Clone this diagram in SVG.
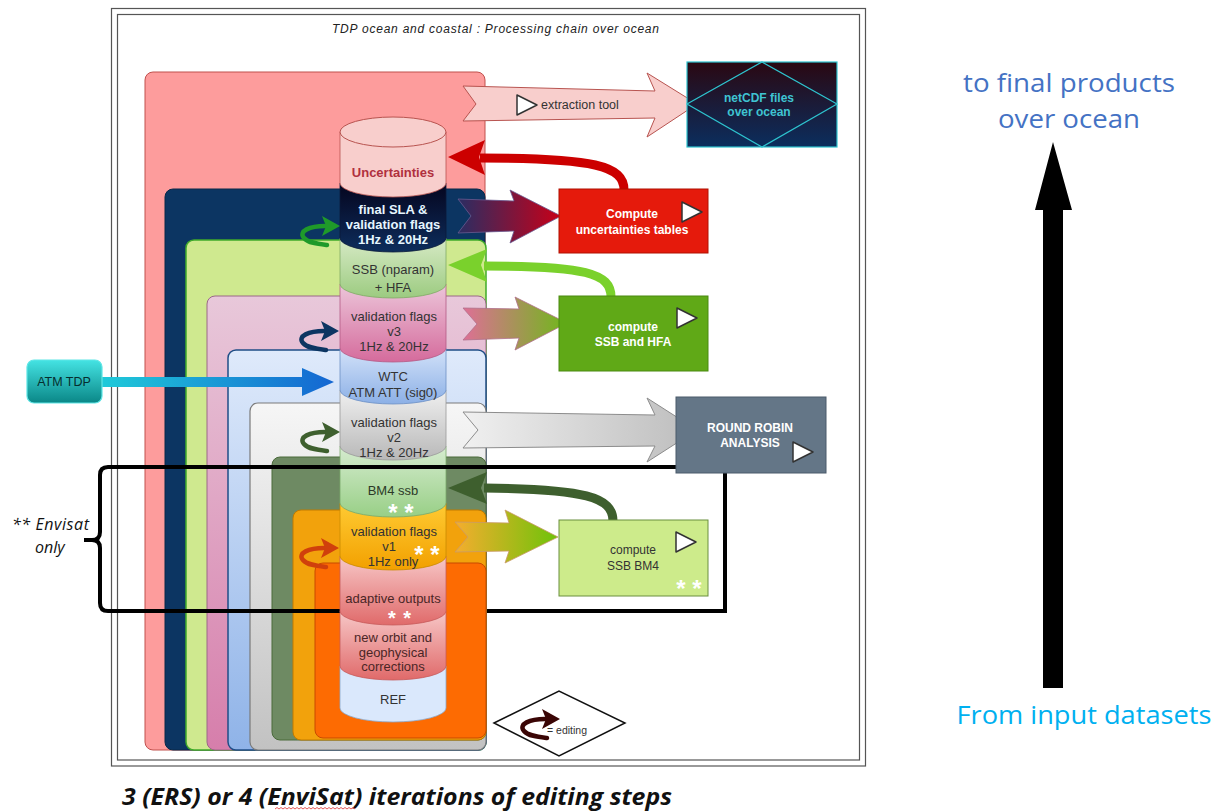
<svg xmlns="http://www.w3.org/2000/svg" width="1223" height="812" viewBox="0 0 1223 812">
  <style>
    .t { font-family: "Liberation Sans", Arial, sans-serif; font-size: 12px; fill: #333; text-anchor: middle; }
    .c { font-size: 13px; }
    .tb { font-weight: bold; }
    .wh { fill: #ffffff; }
    .star { font-family: "Liberation Sans", Arial, sans-serif; font-size: 24px; font-weight: bold; fill: #ffffff; text-anchor: middle; }
    .star-s { font-size: 20px; letter-spacing: 1px; }
    .big { font-family: "Open Sans", "Liberation Sans", sans-serif; font-size: 26px; text-anchor: middle; }
    .frame { fill: none; stroke: #555; stroke-width: 1.2; }
    .play { fill: #ffffff; stroke: #333; stroke-width: 1.5; stroke-linejoin: round; }
    .seg { stroke-width: 0.8; }
    .edit-line { fill: none; stroke: currentColor; stroke-width: 4.5; stroke-linecap: round; }
    .bk { fill: none; stroke: #000; stroke-width: 4; }
  </style>
  <defs>
    <linearGradient id="gMauve" x1="0" y1="0" x2="0" y2="1"><stop offset="0" stop-color="#e8c8da"/><stop offset="1" stop-color="#d67eab"/></linearGradient>
    <linearGradient id="gBlue" x1="0" y1="0" x2="0" y2="1"><stop offset="0" stop-color="#dfeafb"/><stop offset="1" stop-color="#8fb3e8"/></linearGradient>
    <linearGradient id="gGrey" x1="0" y1="0" x2="0" y2="1"><stop offset="0" stop-color="#f6f6f6"/><stop offset="1" stop-color="#c2c2c2"/></linearGradient>
    <linearGradient id="sSla" x1="0" y1="0" x2="0" y2="1"><stop offset="0" stop-color="#05051e"/><stop offset="1" stop-color="#0d2d5c"/></linearGradient>
    <linearGradient id="sSsb" x1="0" y1="0" x2="0" y2="1"><stop offset="0" stop-color="#d7eac6"/><stop offset="1" stop-color="#9ccb80"/></linearGradient>
    <linearGradient id="sV3" x1="0" y1="0" x2="0" y2="1"><stop offset="0" stop-color="#ecc6da"/><stop offset="1" stop-color="#d56b9c"/></linearGradient>
    <linearGradient id="sWtc" x1="0" y1="0" x2="0" y2="1"><stop offset="0" stop-color="#d3e2f9"/><stop offset="1" stop-color="#8cb0e6"/></linearGradient>
    <linearGradient id="sV2" x1="0" y1="0" x2="0" y2="1"><stop offset="0" stop-color="#f0f0f0"/><stop offset="1" stop-color="#b8b8b8"/></linearGradient>
    <linearGradient id="sBm4" x1="0" y1="0" x2="0" y2="1"><stop offset="0" stop-color="#d6ecd0"/><stop offset="1" stop-color="#98cf86"/></linearGradient>
    <linearGradient id="sV1" x1="0" y1="0" x2="0" y2="1"><stop offset="0" stop-color="#ffcb33"/><stop offset="1" stop-color="#f2a000"/></linearGradient>
    <linearGradient id="sRed" x1="0" y1="0" x2="0" y2="1"><stop offset="0" stop-color="#f7c8c8"/><stop offset="1" stop-color="#e06a6a"/></linearGradient>
    <linearGradient id="gNet" x1="0" y1="0" x2="0" y2="1"><stop offset="0" stop-color="#2a0812"/><stop offset="1" stop-color="#0b2e5e"/></linearGradient>
    <linearGradient id="gAtm" x1="0" y1="0" x2="0" y2="1"><stop offset="0" stop-color="#44e3e3"/><stop offset="1" stop-color="#0a8787"/></linearGradient>
    <linearGradient id="aSla" x1="0" y1="0" x2="1" y2="0"><stop offset="0" stop-color="#2a2d63"/><stop offset="1" stop-color="#c80018"/></linearGradient>
    <linearGradient id="aV3" x1="0" y1="0" x2="1" y2="0"><stop offset="0" stop-color="#de6f96"/><stop offset="1" stop-color="#6fb81a"/></linearGradient>
    <linearGradient id="aV2" x1="0" y1="0" x2="1" y2="0"><stop offset="0" stop-color="#f0f0f0"/><stop offset="1" stop-color="#bdbdbd"/></linearGradient>
    <linearGradient id="aV1" x1="0" y1="0" x2="1" y2="0"><stop offset="0" stop-color="#f5ad2e"/><stop offset="1" stop-color="#6ec30a"/></linearGradient>
    <linearGradient id="aAtm" x1="0" y1="0" x2="1" y2="0"><stop offset="0" stop-color="#1fcad9"/><stop offset="1" stop-color="#1466d2"/></linearGradient>
    <!-- editing loop arrow -->
    <symbol id="edit" overflow="visible">
      <path class="edit-line" d="M 29 13 C 14 13 2 18 8 25 C 12 30 22 31 31 32"/>
      <polygon points="26,3 44,13 26,23 30,13" fill="currentColor"/>
    </symbol>
    <symbol id="play" overflow="visible">
      <polygon class="play" points="0,0 20,10 0,20"/>
    </symbol>
  </defs>

  <rect width="1223" height="812" fill="#ffffff"/>

  <!-- double frame -->
  <rect class="frame" x="111.5" y="8.5" width="754" height="757.5"/>
  <rect class="frame" x="117.5" y="14.5" width="742" height="745.5"/>
  <text x="332" y="33" font-family="Liberation Sans, Arial, sans-serif" font-size="12" font-style="italic" fill="#222" textLength="327">TDP ocean and coastal : Processing chain over ocean</text>

  <!-- nested iteration layers -->
  <g id="layers">
    <rect id="layer-unc" x="145" y="72" width="340" height="678" rx="8" fill="#fd9c9c" stroke="#c0504d" stroke-width="1"/>
    <rect id="layer-sla" x="165" y="189" width="320" height="561" rx="8" fill="#0c3562" stroke="#082848" stroke-width="1"/>
    <rect id="layer-ssb" x="186" y="240" width="300" height="510" rx="8" fill="#cfe98f" stroke="#3faa2a" stroke-width="1.5"/>
    <rect id="layer-v3" x="207" y="296" width="279" height="454" rx="8" fill="url(#gMauve)" stroke="#9a6887" stroke-width="1"/>
    <rect id="layer-wtc" x="228" y="350" width="258" height="400" rx="8" fill="url(#gBlue)" stroke="#1f4e86" stroke-width="1.5"/>
    <rect id="layer-v2" x="250" y="403" width="236" height="347" rx="8" fill="url(#gGrey)" stroke="#7a7a7a" stroke-width="1.2"/>
    <rect id="layer-bm4" x="272" y="457" width="214" height="283" rx="8" fill="#6e8a63" stroke="#4a6a3a" stroke-width="1"/>
    <rect id="layer-v1" x="293" y="510" width="193" height="230" rx="8" fill="#f2a20c" stroke="#c07a00" stroke-width="1"/>
    <rect id="layer-adapt" x="315" y="563" width="171" height="175" rx="8" fill="#fd6b02" stroke="#c84b00" stroke-width="1"/>
  </g>

  <!-- Envisat-only bracket, lower part -->
  <g id="envisat-bracket-low">
    <path class="bk" d="M 340 611 L 108 611 Q 100 611 100 603 L 100 548 Q 100 540 92 540 L 84 540"/>
    <path class="bk" d="M 487 611 L 725 611 L 725 472"/>
  </g>

  <!-- processing cylinder, bottom segment first -->
  <g id="cylinder">
    <path class="seg" d="M 340 666 L 340 708 A 53 14 0 0 0 446 708 L 446 666 Z" fill="#dae8fc" stroke="#8aa8cc"/>
    <path class="seg" d="M 340 611 L 340 666 A 53 14 0 0 0 446 666 L 446 611 Z" fill="url(#sRed)" stroke="#c65a5a"/>
    <path class="seg" d="M 340 556 L 340 611 A 53 14 0 0 0 446 611 L 446 556 Z" fill="url(#sRed)" stroke="#c65a5a"/>
    <path class="seg" d="M 340 503 L 340 556 A 53 14 0 0 0 446 556 L 446 503 Z" fill="url(#sV1)" stroke="#c98a00"/>
    <path class="seg" d="M 340 446 L 340 503 A 53 14 0 0 0 446 503 L 446 446 Z" fill="url(#sBm4)" stroke="#7aa86a"/>
    <path class="seg" d="M 340 390 L 340 446 A 53 14 0 0 0 446 446 L 446 390 Z" fill="url(#sV2)" stroke="#999"/>
    <path class="seg" d="M 340 348 L 340 390 A 53 14 0 0 0 446 390 L 446 348 Z" fill="url(#sWtc)" stroke="#6c8fc4"/>
    <path class="seg" d="M 340 284 L 340 348 A 53 14 0 0 0 446 348 L 446 284 Z" fill="url(#sV3)" stroke="#b45a85"/>
    <path class="seg" d="M 340 238 L 340 284 A 53 14 0 0 0 446 284 L 446 238 Z" fill="url(#sSsb)" stroke="#80aa66"/>
    <path class="seg" d="M 340 183 L 340 238 A 53 14 0 0 0 446 238 L 446 183 Z" fill="url(#sSla)" stroke="#0a1a3a"/>
    <path class="seg" d="M 340 132 L 340 183 A 53 14 0 0 0 446 183 L 446 132 Z" fill="#f8cecc" stroke="#b85450" stroke-width="1"/>
    <ellipse cx="393" cy="132" rx="53" ry="15" fill="#f8cecc" stroke="#b85450" stroke-width="1"/>

    <text class="t c tb" x="393" y="177" style="fill:#b0303e">Uncertainties</text>
    <text class="t c tb" x="393" y="214" style="fill:#e6f6ff">final SLA &amp;</text>
    <text class="t c tb" x="393" y="229" style="fill:#e6f6ff">validation flags</text>
    <text class="t c tb" x="393" y="244" style="fill:#e6f6ff">1Hz &amp; 20Hz</text>
    <text class="t c" x="393" y="274">SSB (nparam)</text>
    <text class="t c" x="393" y="292">+ HFA</text>
    <text class="t c" x="394" y="321">validation flags</text>
    <text class="t c" x="394" y="336">v3</text>
    <text class="t c" x="394" y="351">1Hz &amp; 20Hz</text>
    <text class="t c" x="393" y="381">WTC</text>
    <text class="t c" x="393" y="397">ATM ATT (sig0)</text>
    <text class="t c" x="394" y="427">validation flags</text>
    <text class="t c" x="394" y="442">v2</text>
    <text class="t c" x="394" y="457">1Hz &amp; 20Hz</text>
    <text class="t c" x="393" y="495" style="fill:#2c3a28">BM4 ssb</text>
    <text class="star" x="401" y="521">* *</text>
    <text class="t c" x="394" y="536">validation flags</text>
    <text class="t c" x="389" y="551">v1</text>
    <text class="star" x="427" y="563">* *</text>
    <text class="t c" x="393" y="566">1Hz only</text>
    <text class="t c" x="393" y="603" style="fill:#4a2626">adaptive outputs</text>
    <text class="star star-s" x="400" y="625">* *</text>
    <text class="t c" x="393" y="642" style="fill:#4a2626">new orbit and</text>
    <text class="t c" x="393" y="657" style="fill:#4a2626">geophysical</text>
    <text class="t c" x="393" y="671" style="fill:#4a2626">corrections</text>
    <text class="t c" x="393" y="704">REF</text>
  </g>

  <!-- editing loops beside the cylinder -->
  <g id="editing-marks">
    <use href="#edit" x="296" y="213" color="#1f9a2a"/>
    <use href="#edit" x="295" y="318" color="#0c3562"/>
    <use href="#edit" x="296" y="419" color="#3e5f2e"/>
    <use href="#edit" x="295" y="535" color="#d0400c"/>
  </g>

  <!-- Envisat-only bracket, upper line over the stack -->
  <g id="envisat-bracket-top">
    <path class="bk" d="M 677 467 L 108 467 Q 100 467 100 475 L 100 532 Q 100 540 92 540"/>
  </g>

  <g id="connectors">
    <!-- extraction tool -->
    <polygon points="463,86 655,91 647,73 697,104 647,137 655,118 463,121 476,104" fill="#f8cecc" stroke="#b85450" stroke-width="1"/>
    <use href="#play" x="517" y="95"/>
    <text x="541" y="109" font-family="Liberation Sans, Arial, sans-serif" font-size="12.5" fill="#333">extraction tool</text>

    <!-- final SLA to uncertainties tables -->
    <polygon points="458,199 514,201 510,190 561,216 510,243 514,231 458,233 471,216" fill="url(#aSla)" stroke="#6a5a90" stroke-width="0.8"/>
    <!-- uncertainties tables back to cylinder -->
    <path d="M 624 190 C 624 166 595 158 480 158" fill="none" stroke="#cc0000" stroke-width="9"/>
    <polygon points="448,157 485,140 479,157 485,175" fill="#cc0000"/>

    <!-- v3 to SSB and HFA -->
    <polygon points="463,308 519,309 515,297 567,323 515,350 519,338 463,340 477,324" fill="url(#aV3)" stroke="#b0708a" stroke-width="0.8"/>
    <path d="M 611 297 C 611 273 585 266 484 266" fill="none" stroke="#7ad12c" stroke-width="9"/>
    <polygon points="448,265 487,249 481,265 487,282" fill="#7ad12c"/>

    <!-- ATM TDP input -->
    <polygon points="102,377 302,377 302,368 334,382 302,396 302,387 102,387" fill="url(#aAtm)"/>

    <!-- v2 to round robin -->
    <polygon points="463,412 655,415 647,398 697,430 647,462 655,446 463,448 478,430" fill="url(#aV2)" stroke="#8c8c8c" stroke-width="1"/>

    <!-- v1 to SSB BM4 -->
    <polygon points="455,522 509,523 505,510 558,537 505,563 509,551 455,552 468,537" fill="url(#aV1)" stroke="#c99a6a" stroke-width="0.8"/>
    <path d="M 613 521 C 613 497 585 489 484 488" fill="none" stroke="#3e5f2e" stroke-width="9"/>
    <polygon points="448,488 487,472 481,488 487,504" fill="#3e5f2e"/>
  </g>

  <g id="netcdf">
    <rect x="687" y="62" width="150" height="85" fill="url(#gNet)" stroke="#2ec4cf" stroke-width="1.2"/>
    <polygon points="762,62 837,104 762,147 687,104" fill="none" stroke="#2ec4cf" stroke-width="1.2"/>
    <text class="t tb" x="759" y="102" style="fill:#3fc4d2">netCDF files</text>
    <text class="t tb" x="759" y="116" style="fill:#3fc4d2">over ocean</text>
  </g>

  <g id="compute-uncertainties">
    <rect x="559" y="189" width="149" height="64" fill="#e51a0c" stroke="#b01000" stroke-width="1"/>
    <text class="t tb wh" x="632" y="218">Compute</text>
    <text class="t tb wh" x="632" y="234">uncertainties tables</text>
    <use href="#play" x="682" y="202"/>
  </g>

  <g id="compute-ssb-hfa">
    <rect x="559" y="296" width="149" height="75" fill="#60a917" stroke="#4a8a10" stroke-width="1"/>
    <text class="t tb wh" x="633" y="331">compute</text>
    <text class="t tb wh" x="633" y="346">SSB and HFA</text>
    <use href="#play" x="677" y="308"/>
  </g>

  <g id="atm-tdp">
    <rect x="27" y="360" width="75" height="43" rx="7" fill="url(#gAtm)" stroke="#5ee6e6" stroke-width="1.2"/>
    <text class="t" x="64" y="386" style="font-size:12.5px;fill:#062e2e">ATM TDP</text>
  </g>

  <g id="round-robin">
    <rect x="676" y="397" width="150" height="76" fill="#647687" stroke="#4a5a6a" stroke-width="1"/>
    <text class="t tb wh" x="750" y="432">ROUND ROBIN</text>
    <text class="t tb wh" x="750" y="447">ANALYSIS</text>
    <use href="#play" x="793" y="442"/>
  </g>

  <g id="compute-ssb-bm4">
    <rect x="559" y="520" width="149" height="76" fill="#cdeb8b" stroke="#6a8f3e" stroke-width="1"/>
    <text class="t" x="633" y="554">compute</text>
    <text class="t" x="633" y="570">SSB BM4</text>
    <use href="#play" x="676" y="532"/>
    <text class="star" x="689" y="597">* *</text>
  </g>

  <g id="legend">
    <polygon points="494,723 559,691 625,723 559,756" fill="#ffffff" stroke="#111" stroke-width="1.5"/>
    <use href="#edit" x="516" y="706" color="#3a0505"/>
    <text x="547" y="734" font-family="Liberation Sans, Arial, sans-serif" font-size="10.5" fill="#333">= editing</text>
  </g>

  <g id="envisat-note">
    <text x="12" y="530" font-family="Open Sans, Liberation Sans, sans-serif" font-size="16" font-style="italic" fill="#111" textLength="77">** Envisat</text>
    <text x="35" y="553" font-family="Open Sans, Liberation Sans, sans-serif" font-size="16" font-style="italic" fill="#111">only</text>
  </g>

  <g id="flow-direction">
    <text class="big" x="1069" y="92" fill="#4472c4" textLength="212" lengthAdjust="spacingAndGlyphs">to final products</text>
    <text class="big" x="1069" y="128" fill="#4472c4" textLength="142" lengthAdjust="spacingAndGlyphs">over ocean</text>
    <polygon points="1043,688 1063,688 1063,210 1072,210 1053,142 1035,210 1043,210" fill="#000"/>
    <text class="big" x="1084" y="724" fill="#00b0f0" textLength="255" lengthAdjust="spacingAndGlyphs">From input datasets</text>
  </g>

  <g id="caption">
    <text x="122" y="805" font-family="Open Sans, Liberation Sans, sans-serif" font-size="23" font-weight="bold" font-style="italic" fill="#111" textLength="550" lengthAdjust="spacingAndGlyphs">3 (ERS) or 4 (EnviSat) iterations of editing steps</text>
    <path d="M 275 809 l 2 -1.5 l 2 1.5 l 2 -1.5 l 2 1.5 l 2 -1.5 l 2 1.5 l 2 -1.5 l 2 1.5 l 2 -1.5 l 2 1.5 l 2 -1.5 l 2 1.5 l 2 -1.5 l 2 1.5 l 2 -1.5 l 2 1.5 l 2 -1.5 l 2 1.5 l 2 -1.5 l 2 1.5 l 2 -1.5 l 2 1.5 l 2 -1.5 l 2 1.5 l 2 -1.5 l 2 1.5 l 2 -1.5 l 2 1.5 l 2 -1.5 l 2 1.5 l 2 -1.5 l 2 1.5 l 2 -1.5 l 2 1.5 l 2 -1.5 l 2 1.5 l 2 -1.5 l 2 1.5 l 2 -1.5 l 2 1.5" fill="none" stroke="#e03030" stroke-width="0.8"/>
  </g>
</svg>
